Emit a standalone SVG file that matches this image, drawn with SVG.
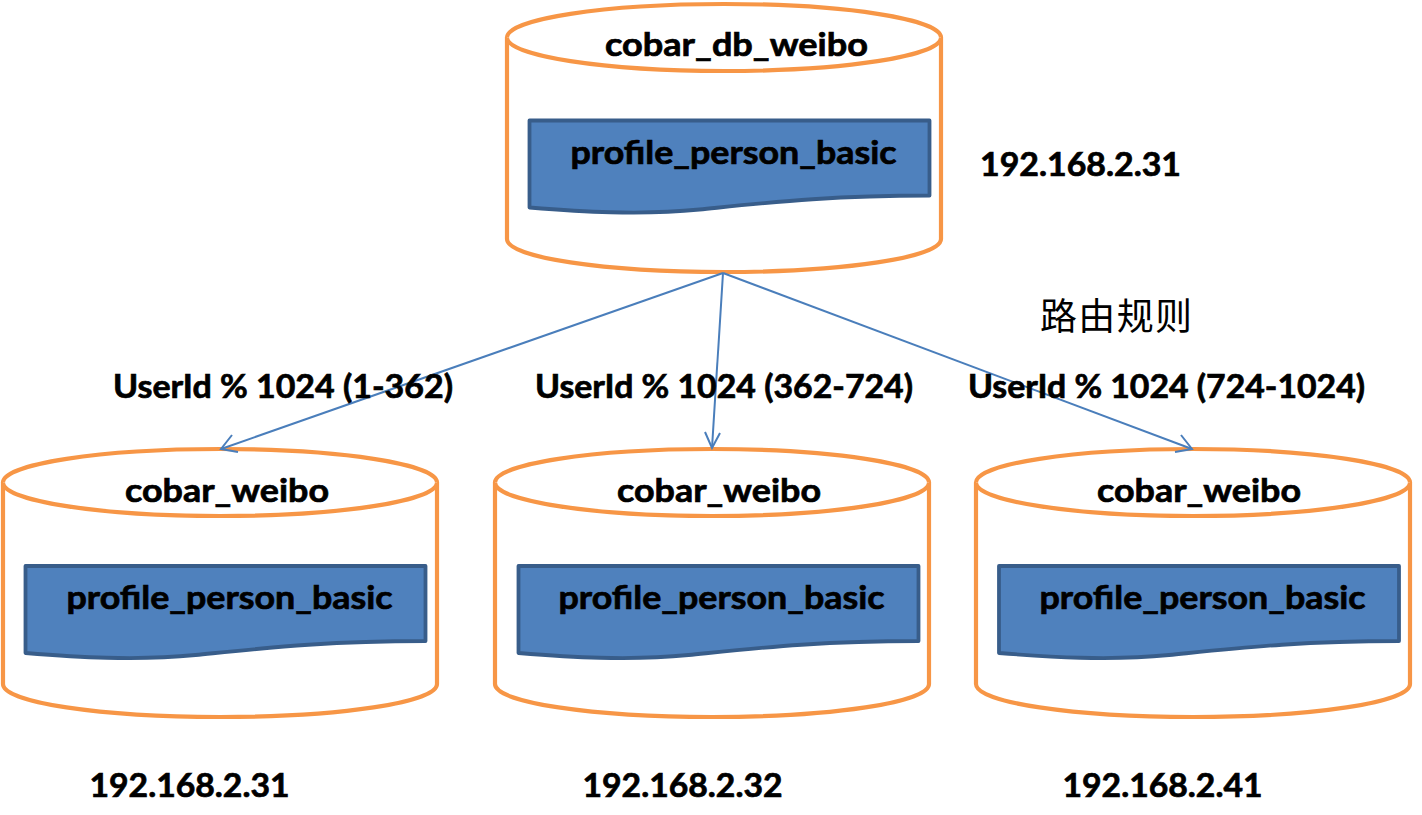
<svg xmlns="http://www.w3.org/2000/svg" width="1422" height="815" viewBox="0 0 1422 815">
<style>
.cyl{fill:#fff;stroke:#f79646;stroke-width:4.2}
.doc{fill:#4f81bd;stroke:#385d8a;stroke-width:3.8;stroke-linejoin:round}
.t{font-family:Lato,"Liberation Sans",sans-serif;font-weight:700;fill:#000;stroke:#000;stroke-width:.7;font-size:33px}
.c{fill:none;stroke:#4a7ebb;stroke-width:2}
.ah{fill:none;stroke:#4a7ebb;stroke-width:2}
</style>
<defs>
<g id="cyl"><path class="cyl" d="M0 33.500C0 15 97 0 217 0S434 15 434 33.500V235C434 253.500 337 268 217 268S0 253.500 0 235Z"/><path class="cyl" fill="none" d="M0 33.500C0 52 97 67 217 67S434 52 434 33.500"/></g>
<path id="doc" class="doc" d="M0 0H400V75C300 75 240 82 170 89C110 95 50 91 0 87Z"/>
</defs>
<rect width="1422" height="815" fill="#fff"/>
<g id="node-top"><use href="#cyl" x="507" y="4"/><use href="#doc" x="529.500" y="120.500"/>
<text class="t" x="605" y="56" textLength="263" lengthAdjust="spacingAndGlyphs">cobar_db_weibo</text>
<text class="t" x="570.500" y="164" textLength="326" lengthAdjust="spacingAndGlyphs">profile_person_basic</text></g>
<g id="node-left"><use href="#cyl" x="3" y="449"/><use href="#doc" x="25.500" y="566"/>
<text class="t" x="125" y="502" textLength="204" lengthAdjust="spacingAndGlyphs">cobar_weibo</text>
<text class="t" x="66.500" y="609" textLength="326" lengthAdjust="spacingAndGlyphs">profile_person_basic</text></g>
<g id="node-mid"><use href="#cyl" x="495" y="449"/><use href="#doc" x="518.500" y="566"/>
<text class="t" x="617" y="502" textLength="204" lengthAdjust="spacingAndGlyphs">cobar_weibo</text>
<text class="t" x="558.500" y="609" textLength="326" lengthAdjust="spacingAndGlyphs">profile_person_basic</text></g>
<g id="node-right"><use href="#cyl" x="976" y="449"/><use href="#doc" x="999" y="566"/>
<text class="t" x="1097" y="502" textLength="204" lengthAdjust="spacingAndGlyphs">cobar_weibo</text>
<text class="t" x="1039.500" y="609" textLength="326" lengthAdjust="spacingAndGlyphs">profile_person_basic</text></g>
<g id="connectors">
<path class="c" d="M723 273L221 449"/><path class="ah" d="M232 435L221 449L238 452"/>
<path class="c" d="M723 273L712 448"/><path class="ah" d="M705 432L712 448L720 433"/>
<path class="c" d="M723 273L1192 449"/><path class="ah" d="M1175 452L1192 449L1181 435"/>
</g>
<g id="labels">
<text class="t" x="980" y="176" textLength="201" lengthAdjust="spacingAndGlyphs">192.168.2.31</text>
<text class="t" x="89.500" y="797" textLength="200" lengthAdjust="spacingAndGlyphs">192.168.2.31</text>
<text class="t" x="582.500" y="797" textLength="200" lengthAdjust="spacingAndGlyphs">192.168.2.32</text>
<text class="t" x="1062.500" y="797" textLength="200" lengthAdjust="spacingAndGlyphs">192.168.2.41</text>
<text class="t" x="113" y="398" textLength="340" lengthAdjust="spacingAndGlyphs">UserId % 1024 (1-362)</text>
<text class="t" x="535" y="398" textLength="378" lengthAdjust="spacingAndGlyphs">UserId % 1024 (362-724)</text>
<text class="t" x="968" y="398" textLength="397" lengthAdjust="spacingAndGlyphs">UserId % 1024 (724-1024)</text>
<text x="1040" y="330" style="font-family:'Noto Sans CJK SC',serif;font-size:37px;fill:#000" textLength="152">路由规则</text>
</g>
</svg>
